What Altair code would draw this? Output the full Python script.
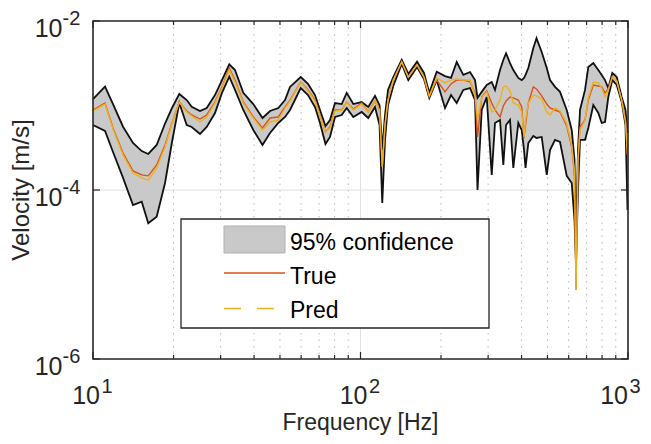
import altair as alt
import pandas as pd

# ---------------- data ----------------
freq = [10.0, 11.09, 11.88, 12.95, 14.11, 15.21, 16.09, 17.30, 18.59, 19.74,
        21.02, 22.40, 23.39, 25.12, 26.61, 28.58, 30.35, 32.32, 33.95, 36.47,
        39.74, 43.02, 45.89, 49.28, 52.21, 54.51, 59.77, 63.64, 67.59, 70.56,
        73.98, 76.91, 80.29, 85.06, 88.80, 93.99, 101.0, 106.9, 113.3, 117.8,
        120.6, 123.5, 126.7, 132.6, 142.6, 150.9, 162.7, 172.7, 180.8, 192.7,
        207.0, 218.0, 228.9, 242.3, 256.7, 268.0, 273.8, 283.9, 296.4, 309.4,
        318.3, 332.3, 341.9, 350.0, 362.2, 372.6, 389.0, 400.6, 408.6, 413.9,
        424.0, 442.7, 455.0, 475.8, 496.8, 511.1, 533.6, 557.0, 590.1, 616.1,
        631.0, 639.2, 650.3, 661.6, 690.7, 710.6, 741.9, 774.5, 797.5, 820.5,
        844.1, 873.7, 907.4, 947.3, 978.7, 995.7]

upper = [1.19e-3, 1.67e-3, 1.04e-3, 5.61e-4, 3.60e-4, 2.89e-4, 2.67e-4, 3.41e-4, 6.12e-4, 9.34e-4,
         1.37e-3, 1.16e-3, 9.68e-4, 8.61e-4, 9.34e-4, 1.33e-3, 2.00e-3, 3.07e-3, 2.63e-3, 1.41e-3,
         1.04e-3, 7.11e-4, 8.61e-4, 9.34e-4, 1.16e-3, 1.66e-3, 2.17e-3, 1.80e-3, 1.33e-3, 8.85e-4,
         5.72e-4, 6.74e-4, 1.07e-3, 1.04e-3, 1.41e-3, 1.04e-3, 1.10e-3, 9.60e-4, 1.30e-3, 1.01e-3,
         2.97e-4, 7.72e-4, 1.53e-3, 2.17e-3, 3.46e-3, 2.36e-3, 3.30e-3, 2.43e-3, 1.41e-3, 2.51e-3,
         2.23e-3, 2.12e-3, 3.27e-3, 2.30e-3, 2.49e-3, 2.00e-3, 1.23e-3, 1.45e-3, 1.75e-3, 1.90e-3,
         1.53e-3, 2.63e-3, 3.46e-3, 4.15e-3, 3.18e-3, 2.63e-3, 2.12e-3, 2.00e-3, 2.12e-3, 2.30e-3,
         2.78e-3, 4.79e-3, 6.24e-3, 4.30e-3, 2.78e-3, 2.00e-3, 1.66e-3, 1.45e-3, 8.85e-4, 5.13e-4,
         2.27e-4, 2.56e-5, 2.97e-4, 8.85e-4, 1.53e-3, 2.86e-3, 3.18e-3, 2.63e-3, 2.30e-3, 2.00e-3,
         1.61e-3, 2.43e-3, 2.17e-3, 1.26e-3, 8.85e-4, 4.73e-4]

lower = [5.88e-4, 4.99e-4, 2.82e-4, 1.39e-4, 6.65e-5, 7.27e-5, 4.04e-5, 4.83e-5, 1.21e-4, 3.70e-4,
         1.07e-3, 5.88e-4, 5.57e-4, 4.60e-4, 5.57e-4, 8.15e-4, 1.41e-3, 2.19e-3, 1.53e-3, 8.85e-4,
         5.13e-4, 3.41e-4, 4.73e-4, 6.21e-4, 7.31e-4, 8.85e-4, 1.61e-3, 1.33e-3, 9.60e-4, 6.21e-4,
         3.50e-4, 4.24e-4, 7.31e-4, 7.72e-4, 9.34e-4, 7.31e-4, 8.38e-4, 7.11e-4, 9.60e-4, 5.88e-4,
         7.02e-5, 3.91e-4, 1.01e-3, 1.70e-3, 3.10e-3, 2.00e-3, 2.86e-3, 2.06e-3, 1.23e-3, 2.00e-3,
         9.34e-4, 1.33e-3, 1.07e-3, 1.53e-3, 1.61e-3, 1.16e-3, 1.00e-4, 8.85e-4, 1.26e-3, 1.51e-4,
         6.21e-4, 6.74e-4, 1.98e-4, 5.88e-4, 6.74e-4, 1.82e-4, 6.21e-4, 5.13e-4, 2.97e-4, 1.82e-4,
         3.60e-4, 4.36e-4, 4.13e-4, 4.24e-4, 1.51e-4, 2.97e-4, 3.91e-4, 3.70e-4, 1.47e-4, 1.21e-4,
         4.42e-5, 1.37e-5, 1.00e-4, 3.91e-4, 3.91e-4, 5.42e-4, 1.01e-3, 8.15e-4, 6.21e-4, 6.38e-4,
         1.26e-3, 2.00e-3, 1.75e-3, 1.10e-3, 5.88e-4, 5.80e-5]

true_v = [8.85e-4, 1.07e-3, 5.42e-4, 2.74e-4, 1.68e-4, 1.51e-4, 1.47e-4, 1.98e-4, 3.41e-4, 6.21e-4,
          1.10e-3, 8.61e-4, 7.72e-4, 6.92e-4, 7.72e-4, 1.10e-3, 1.66e-3, 2.76e-3, 2.00e-3, 1.10e-3,
          7.31e-4, 5.42e-4, 7.11e-4, 7.31e-4, 9.60e-4, 1.16e-3, 1.90e-3, 1.53e-3, 1.16e-3, 7.72e-4,
          4.86e-4, 5.57e-4, 8.85e-4, 8.85e-4, 1.10e-3, 9.09e-4, 1.07e-3, 8.38e-4, 1.13e-3, 8.85e-4,
          1.87e-4, 5.88e-4, 1.16e-3, 2.00e-3, 3.27e-3, 2.17e-3, 3.02e-3, 2.17e-3, 1.27e-3, 2.00e-3,
          1.45e-3, 1.80e-3, 2.00e-3, 2.00e-3, 1.90e-3, 1.41e-3, 4.24e-4, 1.26e-3, 1.49e-3, 1.07e-3,
          8.85e-4, 7.31e-4, 9.86e-4, 1.13e-3, 1.26e-3, 1.23e-3, 1.16e-3, 9.60e-4, 4.13e-4, 5.88e-4,
          1.07e-3, 1.66e-3, 1.57e-3, 1.30e-3, 1.04e-3, 9.34e-4, 8.85e-4, 8.38e-4, 5.72e-4, 3.23e-4,
          1.51e-4, 6.56e-6, 2.27e-4, 5.57e-4, 6.74e-4, 1.16e-3, 1.75e-3, 1.70e-3, 1.66e-3, 1.41e-3,
          1.57e-3, 2.17e-3, 1.95e-3, 1.16e-3, 6.74e-4, 2.60e-4]

pred_v = [8.61e-4, 1.04e-3, 5.27e-4, 2.60e-4, 1.59e-4, 1.39e-4, 1.31e-4, 1.82e-4, 3.23e-4, 6.12e-4,
          1.10e-3, 8.38e-4, 7.51e-4, 6.38e-4, 7.31e-4, 1.07e-3, 1.61e-3, 2.63e-3, 1.90e-3, 1.07e-3,
          7.11e-4, 5.13e-4, 6.38e-4, 6.74e-4, 9.34e-4, 1.13e-3, 1.90e-3, 1.49e-3, 1.13e-3, 7.51e-4,
          4.86e-4, 5.42e-4, 8.61e-4, 8.85e-4, 1.10e-3, 8.85e-4, 1.04e-3, 8.38e-4, 1.13e-3, 8.85e-4,
          1.87e-4, 5.88e-4, 1.16e-3, 2.00e-3, 3.27e-3, 2.17e-3, 3.02e-3, 2.17e-3, 1.30e-3, 2.12e-3,
          1.85e-3, 2.00e-3, 2.06e-3, 2.00e-3, 2.00e-3, 1.30e-3, 6.74e-4, 1.23e-3, 1.45e-3, 8.38e-4,
          8.85e-4, 1.16e-3, 1.66e-3, 1.70e-3, 1.49e-3, 1.07e-3, 1.01e-3, 8.38e-4, 4.24e-4, 6.74e-4,
          1.07e-3, 1.33e-3, 1.30e-3, 1.19e-3, 8.38e-4, 7.72e-4, 9.34e-4, 8.61e-4, 6.12e-4, 3.41e-4,
          1.63e-4, 6.56e-6, 2.27e-4, 5.13e-4, 6.74e-4, 1.23e-3, 1.90e-3, 1.85e-3, 1.61e-3, 1.26e-3,
          1.53e-3, 2.17e-3, 1.95e-3, 1.16e-3, 6.38e-4, 2.60e-4]

minor_x = [20, 30, 40, 50, 60, 70, 80, 90, 200, 300, 400, 500, 600, 700, 800, 900]
major_x = [10, 100, 1000]
major_y = [1e-6, 1e-4, 1e-2]
x_exp = ["1", "2", "3"]
y_exp = ["-6", "-4", "-2"]
grid_x = [100]
grid_y = [1e-4]
legend_labels = ["95% confidence", "True", "Pred"]
x_title = "Frequency [Hz]"
y_title = "Velocity [m/s]"

# ---------------- styling ----------------
W, H = 535, 338
FONT = "Liberation Sans"
DARK = "#262626"
C_TRUE = "#D95319"
C_PRED = "#EDB120"
C_BAND = "#c9c9c9"

xs = alt.Scale(type="log", domain=[10, 1000], nice=False)
ys = alt.Scale(type="log", domain=[1e-6, 1e-2], nice=False)

band = pd.DataFrame({"freq": freq, "upper": upper, "lower": lower,
                     "true": true_v, "pred": pred_v})
one = pd.DataFrame({"k": [0]})
dfx_major = pd.DataFrame({"f": major_x, "e": x_exp})
dfx_lab_inner = dfx_major.iloc[:2]
dfx_lab_last = dfx_major.iloc[2:]
dfy_major = pd.DataFrame({"v": major_y, "e": y_exp})
dfx_minor = pd.DataFrame({"f": minor_x})

X = alt.X("freq:Q", scale=xs, axis=None)
Xf = alt.X("f:Q", scale=xs, axis=None)
Yv = alt.Y("v:Q", scale=ys, axis=None)

layers = []

# grid
layers.append(alt.Chart(dfx_minor).mark_rule(color="#b8b8b8", strokeWidth=1, strokeDash=[1.5, 5])
              .encode(x=Xf))
layers.append(alt.Chart(pd.DataFrame({"f": grid_x})).mark_rule(color="#e0e0e0", strokeWidth=1)
              .encode(x=Xf))
layers.append(alt.Chart(pd.DataFrame({"v": grid_y})).mark_rule(color="#e0e0e0", strokeWidth=1)
              .encode(y=Yv))

# confidence band
layers.append(alt.Chart(band).mark_area(color=C_BAND, opacity=1)
              .encode(x=X, y=alt.Y("upper:Q", scale=ys, axis=None), y2="lower:Q"))
layers.append(alt.Chart(band).mark_line(color="#111111", strokeWidth=1.8)
              .encode(x=X, y=alt.Y("upper:Q", scale=ys, axis=None)))
layers.append(alt.Chart(band).mark_line(color="#111111", strokeWidth=1.8)
              .encode(x=X, y=alt.Y("lower:Q", scale=ys, axis=None)))
layers.append(alt.Chart(band).mark_line(color=C_TRUE, strokeWidth=1.4)
              .encode(x=X, y=alt.Y("true:Q", scale=ys, axis=None)))
layers.append(alt.Chart(band).mark_line(color=C_PRED, strokeWidth=1.4)
              .encode(x=X, y=alt.Y("pred:Q", scale=ys, axis=None)))

# inward ticks
layers.append(alt.Chart(dfx_major).mark_rule(color=DARK, strokeWidth=1.2)
              .encode(x=Xf, y=alt.value(H), y2=alt.value(H - 7)))
layers.append(alt.Chart(dfx_major).mark_rule(color=DARK, strokeWidth=1.2)
              .encode(x=Xf, y=alt.value(0), y2=alt.value(7)))
layers.append(alt.Chart(dfx_minor).mark_rule(color=DARK, strokeWidth=1.2)
              .encode(x=Xf, y=alt.value(H), y2=alt.value(H - 4)))
layers.append(alt.Chart(dfx_minor).mark_rule(color=DARK, strokeWidth=1.2)
              .encode(x=Xf, y=alt.value(0), y2=alt.value(4)))
layers.append(alt.Chart(dfy_major).mark_rule(color=DARK, strokeWidth=1.2)
              .encode(y=Yv, x=alt.value(0), x2=alt.value(7)))
layers.append(alt.Chart(dfy_major).mark_rule(color=DARK, strokeWidth=1.2)
              .encode(y=Yv, x=alt.value(W), x2=alt.value(W - 7)))

# tick labels (10 with superscript exponent)
for dfl, shift in [(dfx_lab_inner, 7), (dfx_lab_last, 0)]:
    layers.append(alt.Chart(dfl).mark_text(text="10", align="right", baseline="alphabetic",
                                           dx=shift, font=FONT, fontSize=25, color=DARK)
                  .encode(x=Xf, y=alt.value(383)))
    layers.append(alt.Chart(dfl).mark_text(align="left", baseline="alphabetic",
                                           dx=shift + 1.5, font=FONT, fontSize=20, color=DARK)
                  .encode(x=Xf, y=alt.value(372), text="e:N"))
layers.append(alt.Chart(dfy_major).mark_text(text="10", align="right", baseline="alphabetic",
                                             dy=16, font=FONT, fontSize=25, color=DARK)
              .encode(y=Yv, x=alt.value(-30.5)))
layers.append(alt.Chart(dfy_major).mark_text(align="left", baseline="alphabetic",
                                             dy=3.7, font=FONT, fontSize=20, color=DARK)
              .encode(y=Yv, x=alt.value(-30.5), text="e:N"))

# axis titles
layers.append(alt.Chart(one).mark_text(text=x_title, align="center", baseline="alphabetic",
                                       font=FONT, fontSize=23, color=DARK)
              .encode(x=alt.value(W / 2), y=alt.value(409)))
layers.append(alt.Chart(one).mark_text(text=y_title, align="center", baseline="alphabetic",
                                       angle=270, font=FONT, fontSize=24, color=DARK)
              .encode(x=alt.value(-64), y=alt.value(H / 2)))

# legend
layers.append(alt.Chart(one).mark_rect(fill="white", stroke=DARK, strokeWidth=1.3)
              .encode(x=alt.value(88), x2=alt.value(396), y=alt.value(198), y2=alt.value(307)))
layers.append(alt.Chart(one).mark_rect(fill=C_BAND, stroke="#b0b0b0", strokeWidth=1)
              .encode(x=alt.value(131), x2=alt.value(192), y=alt.value(205), y2=alt.value(232)))
layers.append(alt.Chart(one).mark_rule(color=C_TRUE, strokeWidth=1.5)
              .encode(x=alt.value(131), x2=alt.value(192), y=alt.value(252)))
layers.append(alt.Chart(one).mark_rule(color=C_PRED, strokeWidth=1.5, strokeDash=[17, 16])
              .encode(x=alt.value(131), x2=alt.value(192), y=alt.value(287.5)))
for lab, yb in zip(legend_labels, [228.5, 262.5, 296.5]):
    layers.append(alt.Chart(one).mark_text(text=lab, align="left", baseline="alphabetic",
                                           font=FONT, fontSize=23, color="#000000")
                  .encode(x=alt.value(197), y=alt.value(yb)))

# plot frame
layers.append(alt.Chart(one).mark_rect(fillOpacity=0, fill="white", stroke=DARK, strokeWidth=1.6)
              .encode(x=alt.value(0), x2=alt.value(W), y=alt.value(0), y2=alt.value(H)))

chart = (alt.layer(*layers)
         .properties(width=W, height=H,
                     autosize=alt.AutoSizeParams(type="none"),
                     padding={"left": 85, "top": 13, "right": 15, "bottom": 76},
                     background="white")
         .configure_view(stroke=None))

chart.save("out.html", embed_options={"renderer": "svg", "actions": False})
